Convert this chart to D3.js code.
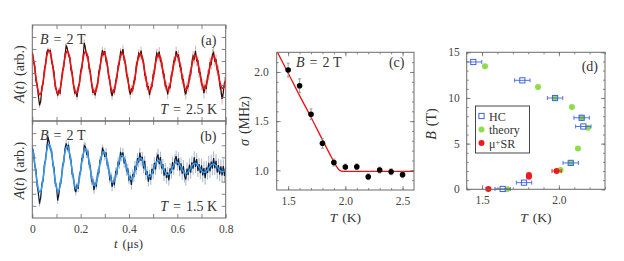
<!DOCTYPE html>
<html><head><meta charset="utf-8">
<script src="https://cdn.jsdelivr.net/npm/d3@7"></script>
<style>body{margin:0;background:#fff}svg{display:block}</style>
</head><body>
<script>
// ---------- DATA ----------
const dt = 0.005; // sampling interval of the muSR time spectra (us)
const fitA = [5.66,5.12,4.41,3.64,2.94,2.43,2.20,2.29,2.67,3.29,
4.03,4.78,5.40,5.78,5.88,5.66,5.16,4.49,3.73,3.04,
2.52,2.26,2.31,2.65,3.23,3.95,4.68,5.30,5.70,5.83,
5.65,5.20,4.56,3.83,3.14,2.61,2.33,2.34,2.64,3.18,
3.87,4.58,5.20,5.62,5.78,5.64,5.23,4.62,3.92,3.24,
2.71,2.40,2.38,2.64,3.14,3.79,4.48,5.10,5.54,5.72,
5.62,5.25,4.68,4.00,3.34,2.80,2.47,2.42,2.64,3.10,
3.72,4.39,5.01,5.45,5.66,5.59,5.26,4.73,4.08,3.43,
2.89,2.55,2.46,2.65,3.07,3.66,4.31,4.92,5.37,5.60,
5.56,5.27,4.77,4.15,3.52,2.98,2.62,2.51,2.66,3.05,
3.60,4.23,4.83,5.29,5.53,5.53,5.27,4.81,4.22,3.61,
3.07,2.70,2.56,2.68,3.03,3.55,4.15,4.74,5.20,5.47,
5.49,5.27,4.84,4.29,3.69,3.15,2.78,2.62,2.70,3.02,
3.50,4.08,4.65,5.12,5.40,5.45,5.26,4.87,4.34,3.76,
3.24,2.86,2.68,2.73,3.01,3.47,4.02,4.57,5.03,5.33,
5.40,5.25,4.89,4.39,3.84,3.32,2.93,2.74,2.76,3.01,
3.43];
const dataA = [5.76,4.97,4.61,3.39,2.99,2.13,1.30,1.69,2.82,3.19,
4.28,4.73,5.70,5.93,5.78,5.86,4.91,4.59,4.03,2.84,
2.57,2.11,2.51,2.35,3.33,4.20,4.48,5.45,6.25,6.03,
5.50,5.30,4.26,4.03,3.04,2.36,2.48,1.99,2.84,3.13,
4.17,4.38,5.30,6.52,6.03,5.44,5.38,4.37,4.12,3.14,
2.41,2.50,2.13,2.84,2.99,4.09,4.38,5.30,5.89,5.57,
5.82,4.95,4.83,3.80,3.44,2.55,2.07,2.57,2.44,3.35,
3.62,4.59,4.76,5.75,5.56,5.99,5.06,4.88,3.78,3.63,
2.74,2.20,2.66,2.55,3.32,3.46,4.61,5.02,5.62,5.40,
5.86,5.12,4.97,3.85,3.67,2.88,2.87,2.16,2.76,2.85,
3.90,3.98,5.03,5.64,5.38,5.78,4.97,4.91,4.02,3.91,
2.92,2.90,2.21,2.83,2.78,3.85,4.05,4.99,5.00,5.82,
5.34,5.47,4.54,4.44,3.49,3.45,2.53,2.22,2.90,2.87,
3.80,3.83,4.80,5.42,5.20,5.85,5.01,5.02,4.04,4.01,
3.04,3.01,2.33,2.93,2.76,3.77,3.87,4.82,4.73,5.53,
5.70,5.00,5.09,4.24,4.14,3.07,2.63,1.84,2.36,3.21,
3.28];
const errA = [0.22,0.25,0.28,0.31,0.34,0.38,0.42,0.46]; // per 0.1 us
const fitB = [5.83,5.26,4.50,3.68,2.93,2.39,2.14,2.23,2.65,3.30,
4.10,4.90,5.56,5.97,6.06,5.83,5.30,4.58,3.79,3.06,
2.51,2.24,2.30,2.66,3.27,4.01,4.76,5.40,5.81,5.93,
5.74,5.28,4.63,3.90,3.22,2.71,2.44,2.46,2.76,3.29,
3.95,4.62,5.19,5.57,5.71,5.57,5.19,4.63,4.00,3.41,
2.95,2.70,2.69,2.92,3.35,3.90,4.48,4.98,5.32,5.45,
5.35,5.06,4.60,4.09,3.59,3.20,2.96,2.94,3.11,3.45,
3.89,4.36,4.77,5.06,5.18,5.12,4.90,4.55,4.14,3.74,
3.42,3.22,3.18,3.31,3.56,3.90,4.27,4.59,4.83,4.94,
4.91,4.75,4.49,4.17,3.86,3.60,3.44,3.39,3.48,3.66,
3.92,4.20,4.46,4.65,4.75,4.74,4.62,4.43,4.19,3.94,
3.74,3.60,3.56,3.61,3.75,3.94,4.16,4.36,4.51,4.60,
4.60,4.52,4.38,4.20,4.00,3.84,3.73,3.68,3.72,3.81,
3.96,4.13,4.29,4.42,4.50,4.51,4.46,4.34,4.20,4.04,
3.90,3.81,3.76,3.79,3.86,3.97,4.11,4.25,4.36,4.43,
4.45,4.40,4.32,4.20,4.07,3.95,3.86,3.82,3.83,3.88,
3.98];
const dataB = [5.73,5.46,4.35,3.93,2.73,2.04,1.19,1.73,2.85,3.15,
4.40,4.80,5.81,6.67,6.21,5.63,5.55,4.43,4.09,2.81,
2.61,1.44,2.00,2.86,3.07,4.31,4.61,5.65,6.16,5.73,
6.04,5.03,4.78,3.60,3.42,2.46,2.14,2.66,2.41,3.54,
3.85,4.92,4.99,5.97,5.86,5.27,5.44,4.43,4.30,3.06,
3.15,2.30,2.84,2.67,3.70,3.70,4.78,4.83,5.72,5.55,
5.05,5.41,4.35,4.29,3.24,3.45,2.56,3.04,2.81,3.80,
3.69,4.66,4.42,5.46,5.03,5.42,4.50,4.80,3.84,4.09,
3.17,3.37,2.73,3.61,3.36,4.30,3.97,4.94,4.58,5.39,
4.71,5.05,4.09,4.72,3.56,3.85,2.99,3.59,3.13,4.06,
3.67,4.55,4.01,4.95,5.25,4.44,5.02,4.08,4.44,3.49,
4.09,3.30,3.76,3.11,4.10,3.69,4.61,4.01,4.81,5.10,
4.35,4.92,3.93,4.50,3.65,4.29,3.43,3.18,4.07,3.56,
4.41,3.73,4.59,4.07,5.00,4.21,4.86,3.89,4.45,3.69,
4.35,3.51,4.11,3.29,4.16,3.72,4.56,3.85,4.66,4.08,
4.95,4.10,4.72,3.75,4.37,3.60,4.26,3.52,4.28,3.48,
4.23];
const errB = [0.25,0.28,0.32,0.36,0.40,0.45,0.50,0.55];
const tTicks = [0,0.1,0.2,0.3,0.4,0.5,0.6,0.7,0.8];
const tMajor = [0,0.2,0.4,0.6,0.8];
const tLabels = ["0","0.2","0.4","0.6","0.8"];
const aTicks = [1,2,3,4,5,6,7];

const tempC = [1.5,1.6,1.7,1.8,1.9,2.0,2.1,2.2,2.3,2.4,2.5];
const sigmaC = [2.02,1.86,1.57,1.275,1.08,1.034,1.037,0.935,1.003,0.986,0.956];
const sigmaErr = [0.07,0.07,0.055,0.05,0.035,0.03,0.03,0.03,0.03,0.03,0.03];
const fitCT = [1.38,1.5,1.6,1.7,1.8,1.88,1.92,1.95,1.98,2.6];
const fitCS = [2.26,1.99,1.76,1.54,1.31,1.13,1.045,1.0,0.99,0.99];
const cXMajor = [1.5,2.0,2.5], cXLabels = ["1.5","2.0","2.5"];
const cYMajor = [1.0,1.5,2.0], cYLabels = ["1.0","1.5","2.0"];

const hcT = [1.443,1.762,1.975,2.148,2.159,2.077,1.773,1.634];
const hcB = [13.94,11.93,9.99,7.83,6.88,2.89,0.73,0.04];
const hcErr = [0.055,0.05,0.05,0.05,0.05,0.05,0.05,0.05];
const thT = [1.519,1.864,1.975,2.085,2.148,2.189,2.124,2.077,2.011,1.664];
const thB = [13.47,11.2,10.0,9.0,7.83,6.73,4.46,2.89,2.12,0.0];
const muT = [1.541,1.805,1.805,1.985];
const muB = [0.04,1.57,1.38,2.0];
const muErr = [0.015,0,0,0.03];
const dXMajor = [1.5,2.0], dXLabels = ["1.5","2.0"];
const dYMajor = [0,5,10,15], dYLabels = ["0","5","10","15"];
const legendLabels = ["HC","theory","SR"];

// ---------- DRAWING ----------
const FONT = '"Liberation Serif","Times New Roman",serif';
const FR = "#6a6a6a";
const svg = d3.select("body").append("svg").attr("width",624).attr("height",261);
const defs = svg.append("defs");

function clip(id,x0,y0,x1,y1){
  defs.append("clipPath").attr("id",id).append("rect")
    .attr("x",x0).attr("y",y0).attr("width",x1-x0).attr("height",y1-y0);
}
function frame(x0,y0,x1,y1){
  svg.append("rect").attr("x",x0).attr("y",y0).attr("width",x1-x0).attr("height",y1-y0)
    .attr("fill","none").attr("stroke",FR).attr("stroke-width",1);
}
function addTicks(scale,orient,pos,values,size,labels,pad){
  const gen={left:d3.axisLeft,right:d3.axisRight,top:d3.axisTop,bottom:d3.axisBottom}[orient];
  const ax=gen(scale).tickValues(values).tickSizeInner(-size).tickSizeOuter(0).tickPadding(pad||7);
  ax.tickFormat(labels?((d,i)=>labels[i]):()=>"");
  const horiz=orient==="top"||orient==="bottom";
  const g=svg.append("g").attr("transform",horiz?`translate(0,${pos})`:`translate(${pos},0)`).call(ax);
  g.attr("font-family",FONT);
  g.select(".domain").remove();
  g.selectAll("line").attr("stroke",FR).attr("stroke-width",0.8);
  g.selectAll("text").style("font-family",FONT).attr("font-size",11.5).attr("fill","#444");
}
function mtext(x,y,parts,opts){
  opts=opts||{};
  const t=svg.append("text").attr("x",x).attr("y",y).style("font-family",FONT)
    .attr("font-size",opts.size||14).attr("fill","#333").attr("text-anchor",opts.anchor||"start");
  if(opts.rotate) t.attr("transform",`rotate(-90,${x},${y})`);
  parts.forEach(p=>{const s=t.append("tspan").text(p[0]); if(p[1]) s.attr("font-style","italic"); if(p[2]) s.attr("dx",p[2]); if(p[3]) s.attr("baseline-shift",p[3]).attr("font-size",p[4]);});
  return t;
}

// ----- panels (a) and (b) -----
const AX0=32.3, AX1=225.7;
const xT = d3.scaleLinear([0,0.8],[AX0,AX1]);
const panelsAB = [
  {y0:25,y1:121,fit:fitA,data:dataA,err:errA,fitC:"#ee1111",dataC:"#2e0a0a",errC:"#c99",id:"ca",lab:"(a)",T:"2.5"},
  {y0:121,y1:218,fit:fitB,data:dataB,err:errB,fitC:"#3797e6",dataC:"#0c1c38",errC:"#94a2b8",id:"cb",lab:"(b)",T:"1.5"}
];
panelsAB.forEach(p=>{
  const y=d3.scaleLinear([0,8],[p.y1,p.y0]);
  clip(p.id,AX0,p.y0,AX1,p.y1);
  const g=svg.append("g").attr("clip-path",`url(#${p.id})`);
  g.selectAll("line.e").data(p.data).enter().append("line")
    .attr("x1",(d,i)=>xT(i*dt)).attr("x2",(d,i)=>xT(i*dt))
    .attr("y1",(d,i)=>y(d-p.err[Math.min(7,Math.floor(i*dt/0.1))]))
    .attr("y2",(d,i)=>y(d+p.err[Math.min(7,Math.floor(i*dt/0.1))]))
    .attr("stroke",p.errC).attr("stroke-width",0.8);
  g.append("path").datum(p.data).attr("fill","none").attr("stroke",p.dataC).attr("stroke-width",1.2)
    .attr("d",d3.line().x((d,i)=>xT(i*dt)).y(d=>y(d)));
  g.append("path").datum(p.fit).attr("fill","none").attr("stroke",p.fitC).attr("stroke-width",1.6)
    .attr("d",d3.line().x((d,i)=>xT(i*dt)).y(d=>y(d)).curve(d3.curveCatmullRom));
  addTicks(y,"left",AX0,aTicks,4);
  addTicks(y,"right",AX1,aTicks,4);
  addTicks(xT,"top",p.y0,tTicks,4);
  addTicks(xT,"bottom",p.y1,tTicks,4, null);
  frame(AX0,p.y0,AX1,p.y1);
  mtext(40,p.y0+18.5,[["B",1],["=",0,5],["2",0,5],["T",0,3.5]]);
  mtext(216.5,p.y0+20,[[p.lab]],{anchor:"end"});
  mtext(217,p.y1-7,[["T",1],["=",0,5],[p.T,0,5],["K",0,3.5]],{anchor:"end"});
  mtext(23.5,(p.y0+p.y1)/2+1,[["A",1],["("],["t",1],[")"],["(arb.)",0,5]],{anchor:"middle",rotate:true,size:14});
});
// bottom tick labels of (b)
addTicks(xT,"bottom",218,tMajor,0,tLabels,6.5);
mtext(128.5,247.5,[["t",1],["(μs)",0,5]],{anchor:"middle",size:12.8});

// ----- panel (c) -----
const CX0=276.7, CX1=414, CY0=52.3, CY1=190;
const xC=d3.scaleLinear([1.4,2.6],[CX0,CX1]);
const yC=d3.scaleLinear([0.8,2.2],[CY1,CY0]);
const cMinorX=d3.range(15,26).map(v=>v/10);
const cMinorY=d3.range(9,22).map(v=>v/10);
clip("cc",CX0,CY0,CX1,CY1);
svg.append("path").datum(fitCT.map((t,i)=>[t,fitCS[i]])).attr("clip-path","url(#cc)")
  .attr("fill","none").attr("stroke","#ee1111").attr("stroke-width",1.3)
  .attr("d",d3.line().x(d=>xC(d[0])).y(d=>yC(d[1])).curve(d3.curveMonotoneX));
const gc=svg.append("g");
tempC.forEach((t,i)=>{
  const x=xC(t), ya=yC(sigmaC[i]-sigmaErr[i]), yb=yC(sigmaC[i]+sigmaErr[i]);
  gc.append("line").attr("x1",x).attr("x2",x).attr("y1",ya).attr("y2",yb).attr("stroke","#888").attr("stroke-width",0.8);
  [ya,yb].forEach(yy=>gc.append("line").attr("x1",x-1.5).attr("x2",x+1.5).attr("y1",yy).attr("y2",yy).attr("stroke","#888").attr("stroke-width",0.8));
  gc.append("circle").attr("cx",x).attr("cy",yC(sigmaC[i])).attr("r",2.8).attr("fill","#000");
});
addTicks(xC,"bottom",CY1,cMinorX,2); addTicks(xC,"top",CY0,cMinorX,2);
addTicks(yC,"left",CX0,cMinorY,2); addTicks(yC,"right",CX1,cMinorY,2);
addTicks(xC,"bottom",CY1,cXMajor,4,cXLabels,7); addTicks(xC,"top",CY0,cXMajor,4);
addTicks(yC,"left",CX0,cYMajor,4,cYLabels,8); addTicks(yC,"right",CX1,cYMajor,4);
frame(CX0,CY0,CX1,CY1);
mtext(296,66.5,[["B",1],["=",0,5],["2",0,5],["T",0,3.5]]);
mtext(404.5,67,[["(c)"]],{anchor:"end"});
mtext(345.3,222,[["T",1],["(K)",0,5]],{anchor:"middle",size:13.5});
mtext(249,121,[["σ",1],["(MHz)",0,5]],{anchor:"middle",rotate:true});

// ----- panel (d) -----
const DX0=466.7, DX1=605, DY0=52.3, DY1=189.3;
const xD=d3.scaleLinear([1.4,2.3],[DX0,DX1]);
const yD=d3.scaleLinear([0,15],[DY1,DY0]);
const dMinorX=d3.range(14,24).map(v=>v/10);
const dMinorY=d3.range(0,16);
const BLUE="#3d63e8", GREEN="#8edc4a", RED="#ee1b1b";
clip("cd",DX0-0.5,DY0-8,DX1,DY1+8);
const gd=svg.append("g").attr("clip-path","url(#cd)");
thT.forEach((t,i)=>gd.append("circle").attr("cx",xD(t)).attr("cy",yD(thB[i])).attr("r",3).attr("fill",GREEN));
function xerr(g,t,b,e,c){
  if(!e) return;
  const xa=xD(t-e), xb=xD(t+e), y=yD(b);
  g.append("line").attr("x1",xa).attr("x2",xb).attr("y1",y).attr("y2",y).attr("stroke",c).attr("stroke-width",0.9);
  [xa,xb].forEach(xx=>g.append("line").attr("x1",xx).attr("x2",xx).attr("y1",y-2).attr("y2",y+2).attr("stroke",c).attr("stroke-width",0.9));
}
hcT.forEach((t,i)=>{
  xerr(gd,t,hcB[i],hcErr[i],BLUE);
  gd.append("rect").attr("x",xD(t)-2.6).attr("y",yD(hcB[i])-2.6).attr("width",5.2).attr("height",5.2)
    .attr("fill","none").attr("stroke",BLUE).attr("stroke-width",1);
});
muT.forEach((t,i)=>{
  xerr(gd,t,muB[i],muErr[i],RED);
  gd.append("circle").attr("cx",xD(t)).attr("cy",yD(muB[i])).attr("r",3).attr("fill",RED);
});
addTicks(xD,"bottom",DY1,dMinorX,2); addTicks(xD,"top",DY0,dMinorX,2);
addTicks(yD,"left",DX0,dMinorY,2); addTicks(yD,"right",DX1,dMinorY,2);
addTicks(xD,"bottom",DY1,dXMajor,4,dXLabels,7); addTicks(xD,"top",DY0,dXMajor,4);
addTicks(yD,"left",DX0,dYMajor,4,dYLabels,7); addTicks(yD,"right",DX1,dYMajor,4);
frame(DX0,DY0,DX1,DY1);
mtext(598,70.5,[["(d)"]],{anchor:"end"});
mtext(535.8,222,[["T",1],["(K)",0,5]],{anchor:"middle",size:13.5});
mtext(436,124,[["B",1],["(T)",0,5]],{anchor:"middle",rotate:true});
// legend
svg.append("rect").attr("x",475.5).attr("y",106).attr("width",54).attr("height",47)
  .attr("fill","#fff").attr("stroke","#333").attr("stroke-width",0.9);
svg.append("rect").attr("x",481.5-2.6).attr("y",116-2.6).attr("width",5.2).attr("height",5.2).attr("fill","none").attr("stroke",BLUE);
svg.append("circle").attr("cx",481.5).attr("cy",129.5).attr("r",3).attr("fill",GREEN);
svg.append("circle").attr("cx",481.5).attr("cy",143).attr("r",3).attr("fill",RED);
mtext(489,120.5,[[legendLabels[0]]],{size:12});
mtext(489,133.5,[[legendLabels[1]]],{size:12});
mtext(489,147.5,[["μ"],["+",0,0,"3.5px","8px"],[legendLabels[2],0,0.5]],{size:12});
</script>
</body></html>
